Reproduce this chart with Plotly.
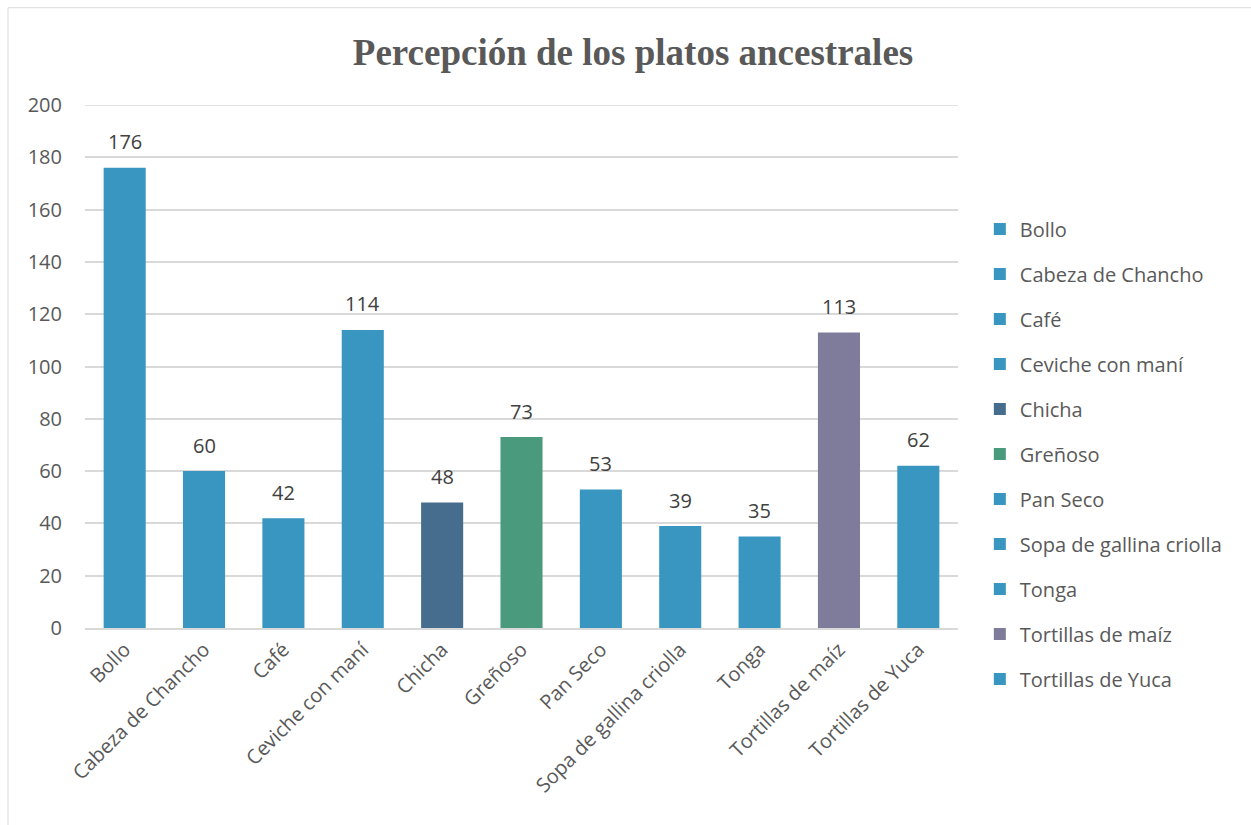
import plotly.graph_objects as go

# Dish names and number of mentions
platos = ["Bollo", "Cabeza de Chancho", "Café", "Ceviche con maní", "Chicha",
          "Greñoso", "Pan Seco", "Sopa de gallina criolla", "Tonga",
          "Tortillas de maíz", "Tortillas de Yuca"]
valores = [176, 60, 42, 114, 48, 73, 53, 39, 35, 113, 62]
colores = ["#3896c0", "#3896c0", "#3896c0", "#3896c0", "#476d8e",
           "#4a9a7e", "#3896c0", "#3896c0", "#3896c0", "#7e7b9b", "#3896c0"]
ticks_y = [0, 20, 40, 60, 80, 100, 120, 140, 160, 180, 200]

FONT = "Open Sans"
GRIS = "#595959"

fig = go.Figure()
for p, v, c in zip(platos, valores, colores):
    fig.add_trace(go.Bar(
        x=[p], y=[v], name=p, marker=dict(color=c, line=dict(width=0)),
        width=0.53, legendgroup=p,
    ))
    # value label floating above each bar
    fig.add_annotation(x=p, y=v, text=str(v), showarrow=False,
                       yanchor="middle", yshift=26,
                       font=dict(family=FONT, size=20, color="#404040"))

fig.update_layout(
    width=1251, height=825,
    margin=dict(l=85, r=293, t=105, b=197),
    paper_bgcolor="white", plot_bgcolor="white",
    barmode="overlay",
    showlegend=True,
    title=dict(text="<b>Percepción de los platos ancestrales</b>",
               x=0.506, xanchor="center", y=0.937, yanchor="middle",
               font=dict(family="Liberation Serif", size=37, color=GRIS)),
    legend=dict(x=1.025, xanchor="left", y=0.80, yanchor="top",
                traceorder="grouped", tracegroupgap=16,
                font=dict(family=FONT, size=20, color=GRIS),
                itemclick=False, bgcolor="rgba(0,0,0,0)"),
    xaxis=dict(categoryorder="array", categoryarray=platos,
               tickangle=-45, tickfont=dict(family=FONT, size=20, color=GRIS),
               showline=True, linecolor="#d9d9d9", linewidth=2,
               showgrid=False, ticks="", range=[-0.5, 10.5]),
    yaxis=dict(range=[0, 200], tickvals=ticks_y,
               tickfont=dict(family=FONT, size=20, color=GRIS),
               showgrid=True, gridcolor="#d9d9d9", gridwidth=1.5,
               zeroline=False, showline=False, ticks="",
               ticklabelstandoff=22),
    shapes=[
        # top gridline at 200
        dict(type="line", xref="paper", yref="y", layer="below",
             x0=0, x1=1, y0=200, y1=200,
             line=dict(color="#d9d9d9", width=1.5)),
        # outer chart frame
        dict(type="line", xref="paper", yref="paper",
             x0=-0.0882, x1=1.4, y0=1.186, y1=1.186,
             line=dict(color="#d9d9d9", width=1)),
        dict(type="line", xref="paper", yref="paper",
             x0=-0.0882, x1=-0.0882, y0=1.186, y1=-0.4,
             line=dict(color="#d9d9d9", width=1)),
    ],
)

fig.write_html("out.html")
